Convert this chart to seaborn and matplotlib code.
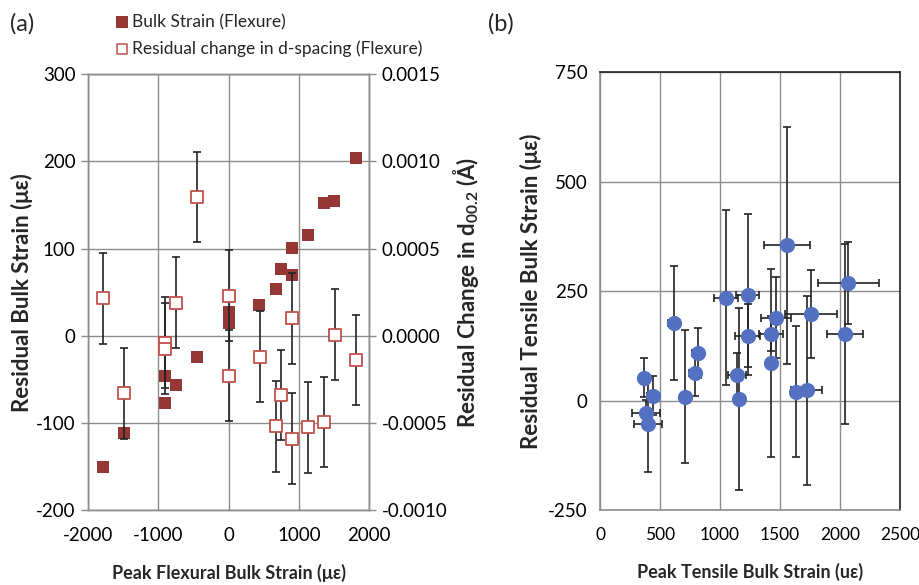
import numpy as np
import pandas as pd
import matplotlib
matplotlib.use("Agg")
import matplotlib.pyplot as plt
import seaborn as sns

# panel (a) - flexure
flex_bulk_x = [-1786, -1486, -900, -900, -747, -453, 0, 0, 0, 433, 681, 752, 905, 905, 1133, 1357, 1505, 1810]
flex_bulk_y = [-151, -112, -77, -46, -57, -24, 14, 21, 27, 35, 53, 77, 70, 101, 116, 152, 154, 204]

flex_d_x = [-1786, -1486, -900, -900, -747, -453, 0, 0, 443, 681, 752, 905, 905, 1133, 1357, 1514, 1814]
flex_d_y = [0.000215, -0.00033, -0.00004, -0.000075, 0.00019, 0.000795, 0.00023, -0.00023, -0.00012,
            -0.00052, -0.00034, 0.0001, -0.00059, -0.000525, -0.000495, 0.000005, -0.00014]
flex_d_err = [0.00026] * len(flex_d_x)

# panel (b) - tensile
tens_x = [369, 439, 381, 400, 619, 708, 819, 792, 1050, 1231, 1231, 1142, 1158, 1425, 1467, 1422,
          1560, 1633, 1722, 1757, 2070, 2045]
tens_y = [52, 11, -28, -53, 177, 9, 108, 62, 235, 242, 148, 59, 4, 152, 189, 86,
          354, 20, 23, 197, 268, 152]
tens_xerr = [20, 50, 118, 118, 50, 0, 50, 50, 96, 97, 104, 75, 0, 100, 122, 0,
             192, 0, 129, 215, 253, 150]
tens_yerr = [45, 45, 30, 110, 130, 152, 57, 51, 200, 183, 72, 50, 208, 40, 93, 214,
             270, 150, 215, 100, 93, 205]

sns.set_theme(style="whitegrid")
plt.rcParams['font.family'] = ['Lato', 'DejaVu Sans']
plt.rcParams['axes.unicode_minus'] = False
plt.rcParams['mathtext.fontset'] = 'custom'
plt.rcParams['mathtext.rm'] = 'Lato:bold'
plt.rcParams['mathtext.it'] = 'Lato:italic:bold'
plt.rcParams['mathtext.bf'] = 'Lato:bold'

dark_red = '#953735'
light_red = '#c0504d'
blue = '#5470c0'
grid_c = '#8c8c8c'

fig = plt.figure(figsize=(9.19, 5.85), dpi=100)
ax = fig.add_axes([0.0958, 0.1282, 0.3058, 0.745])
ax2 = ax.twinx()
bx = fig.add_axes([0.6529, 0.1282, 0.3264, 0.7487])

df_bulk = pd.DataFrame({'x': flex_bulk_x, 'y': flex_bulk_y})
df_d = pd.DataFrame({'x': flex_d_x, 'y': flex_d_y, 'err': flex_d_err})
df_t = pd.DataFrame({'x': tens_x, 'y': tens_y, 'xerr': tens_xerr, 'yerr': tens_yerr})

sns.scatterplot(data=df_bulk, x='x', y='y', ax=ax, marker='s', s=85, color=dark_red,
                edgecolor=dark_red, linewidth=0, zorder=3, legend=False)
ax2.errorbar(df_d['x'], df_d['y'], yerr=df_d['err'], fmt='none', ecolor='#222222',
             elinewidth=1.2, capsize=3, capthick=1.2, zorder=2)
sns.scatterplot(data=df_d, x='x', y='y', ax=ax2, marker='s', s=70, color='white',
                edgecolor=light_red, linewidth=1.3, zorder=4, legend=False)

ax.set_xlim(-2000, 2000)
ax.set_ylim(-200, 300)
ax2.set_ylim(-0.0010, 0.0015)
ax.set_xticks([-2000, -1000, 0, 1000, 2000])
ax.set_yticks([-200, -100, 0, 100, 200, 300])
ax2.set_yticks([-0.0010, -0.0005, 0.0, 0.0005, 0.0010, 0.0015])
ax2.set_yticklabels([f"{v:.4f}" for v in ax2.get_yticks()])
ax.grid(True, color=grid_c, lw=1)
ax2.grid(False)
ax.set_facecolor('white')

ax.set_xlabel('Peak Flexural Bulk Strain (με)', fontsize=13, fontweight='bold', labelpad=14)
ax.set_ylabel('Residual Bulk Strain (με)', fontsize=16, fontweight='bold', labelpad=2)
ax2.set_ylabel(r'Residual Change in d$_{\mathit{00.2}}$ (Å)', fontsize=16, fontweight='bold', labelpad=3)

for a in (ax, ax2):
    for sp in a.spines.values():
        sp.set_color(grid_c)
        sp.set_linewidth(1)
    a.tick_params(labelsize=13.5, colors='black', length=5, width=1, color=grid_c)
ax.tick_params(axis='x', direction='inout', length=9, pad=8)
ax.tick_params(axis='y', direction='out', pad=4)
ax2.tick_params(axis='y', direction='out', pad=4)

# legend above panel (a)
hb = ax.scatter([], [], marker='s', s=85, color=dark_red, linewidth=0)
hd = ax.scatter([], [], marker='s', s=60, color='white', edgecolor=light_red, linewidth=1.1)
fig.legend([hb, hd], ['Bulk Strain (Flexure)', 'Residual change in d-spacing (Flexure)'],
           loc='upper left', bbox_to_anchor=(0.108, 1.0), frameon=False, fontsize=12.5,
           handletextpad=0.1, labelspacing=0.6, handlelength=1.0, borderaxespad=0.4)

# panel (b)
bx.errorbar(df_t['x'], df_t['y'], xerr=df_t['xerr'], yerr=df_t['yerr'], fmt='none',
            ecolor='#222222', elinewidth=1.2, capsize=3, capthick=1.2, zorder=2)
sns.scatterplot(data=df_t, x='x', y='y', ax=bx, s=120, color=blue, edgecolor=blue,
                linewidth=0, zorder=4, legend=False)
bx.set_xlim(0, 2500)
bx.set_ylim(-250, 750)
bx.set_xticks([0, 500, 1000, 1500, 2000, 2500])
bx.set_yticks([-250, 0, 250, 500, 750])
bx.grid(True, color=grid_c, lw=1)
bx.set_facecolor('white')
for name, sp in bx.spines.items():
    sp.set_linewidth(1.2)
    sp.set_color('#222222' if name in ('top', 'right') else grid_c)
bx.tick_params(labelsize=13.5, colors='black', length=5, width=1, color=grid_c)
bx.tick_params(axis='x', direction='inout', length=9, pad=8, labelsize=12.5)
bx.tick_params(axis='y', direction='out', pad=4)
bx.set_xlabel('Peak Tensile Bulk Strain (uε)', fontsize=13, fontweight='bold', labelpad=14)
bx.set_ylabel('Residual Tensile Bulk Strain (με)', fontsize=16, fontweight='bold', labelpad=4)

fig.text(0.011, 0.959, '(a)', fontsize=17, va='center', ha='left')
fig.text(0.531, 0.959, '(b)', fontsize=17, va='center', ha='left')

fig.savefig('out.png', dpi=100)
